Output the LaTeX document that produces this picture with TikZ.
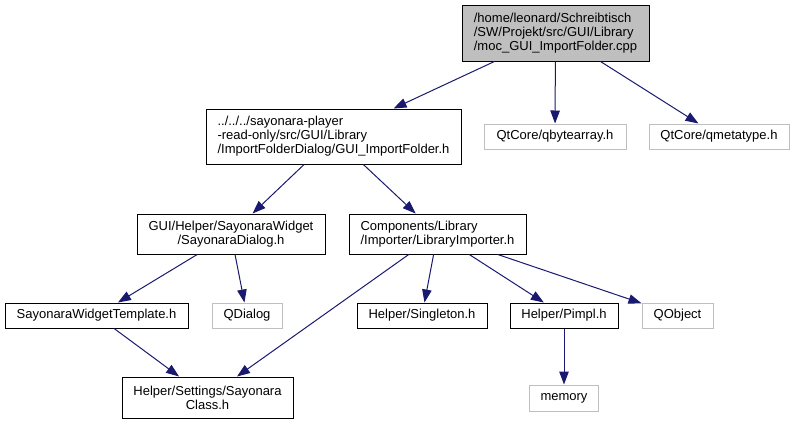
\documentclass[tikz,border=0pt]{standalone}
\usepackage{fontspec}
\setmainfont{Liberation Sans}
\usetikzlibrary{arrows.meta}
\definecolor{edgeblue}{RGB}{25,25,112}
\definecolor{boxgray}{RGB}{191,191,191}
\tikzset{
  filebox/.style={draw=black, line width=1pt, inner sep=0pt, font=\fontsize{13}{14}\selectfont, align=left},
  cbox/.style={filebox, align=center},
  extbox/.style={filebox, draw=boxgray},
  rootbox/.style={filebox, fill=boxgray},
  dep/.style={draw=edgeblue, line width=1pt, -{Triangle[length=13pt,width=9.5pt]}}
}
\begin{document}
\begin{tikzpicture}[x=1pt,y=-1pt]
\useasboundingbox (0,0) rectangle (795,424);
\node[rootbox, minimum width=187pt, minimum height=56pt] (top) at (555.5,33)
  {/home/leonard/Schreibtisch\\/SW/Projekt/src/GUI/Library\\/moc\_GUI\_ImportFolder.cpp};
\node[filebox, minimum width=255pt, minimum height=55pt] (guiif) at (333.5,136.5)
  {../../../sayonara-player\\-read-only/src/GUI/Library\\/ImportFolderDialog/GUI\_ImportFolder.h};
\node[extbox, minimum width=142pt, minimum height=25pt] (qbyte) at (555,136.5) {QtCore/qbytearray.h};
\node[extbox, minimum width=140pt, minimum height=25pt] (qmeta) at (719,136.5) {QtCore/qmetatype.h};
\node[cbox, minimum width=188pt, minimum height=40pt] (sd) at (231,234)
  {GUI/Helper/SayonaraWidget\\/SayonaraDialog.h};
\node[filebox, minimum width=177pt, minimum height=40pt] (li) at (437.5,234)
  {Components/Library\\/Importer/LibraryImporter.h};
\node[filebox, minimum width=183pt, minimum height=25pt] (swt) at (96.5,315.5) {SayonaraWidgetTemplate.h};
\node[extbox, minimum width=70pt, minimum height=25pt] (qdialog) at (247,315.5) {QDialog};
\node[filebox, minimum width=130pt, minimum height=25pt] (single) at (422,315.5) {Helper/Singleton.h};
\node[filebox, minimum width=108pt, minimum height=25pt] (pimpl) at (564,315.5) {Helper/Pimpl.h};
\node[extbox, minimum width=71pt, minimum height=25pt] (qobject) at (677.5,315.5) {QObject};
\node[cbox, minimum width=171pt, minimum height=41pt] (sc) at (207.5,397.5)
  {Helper/Settings/Sayonara\\Class.h};
\node[extbox, minimum width=69pt, minimum height=26pt] (memory) at (564,398) {memory};
\draw[dep] (top) -- (guiif);
\draw[dep] (top) -- (qbyte);
\draw[dep] (top) -- (qmeta);
\draw[dep] (guiif) -- (sd);
\draw[dep] (guiif) -- (li);
\draw[dep] (sd) -- (swt);
\draw[dep] (sd) -- (qdialog);
\draw[dep] (swt) -- (sc);
\draw[dep] (li) -- (sc);
\draw[dep] (li) -- (single);
\draw[dep] (li) -- (pimpl);
\draw[dep] (li) -- (qobject);
\draw[dep] (pimpl) -- (memory);
\end{tikzpicture}
\end{document}
